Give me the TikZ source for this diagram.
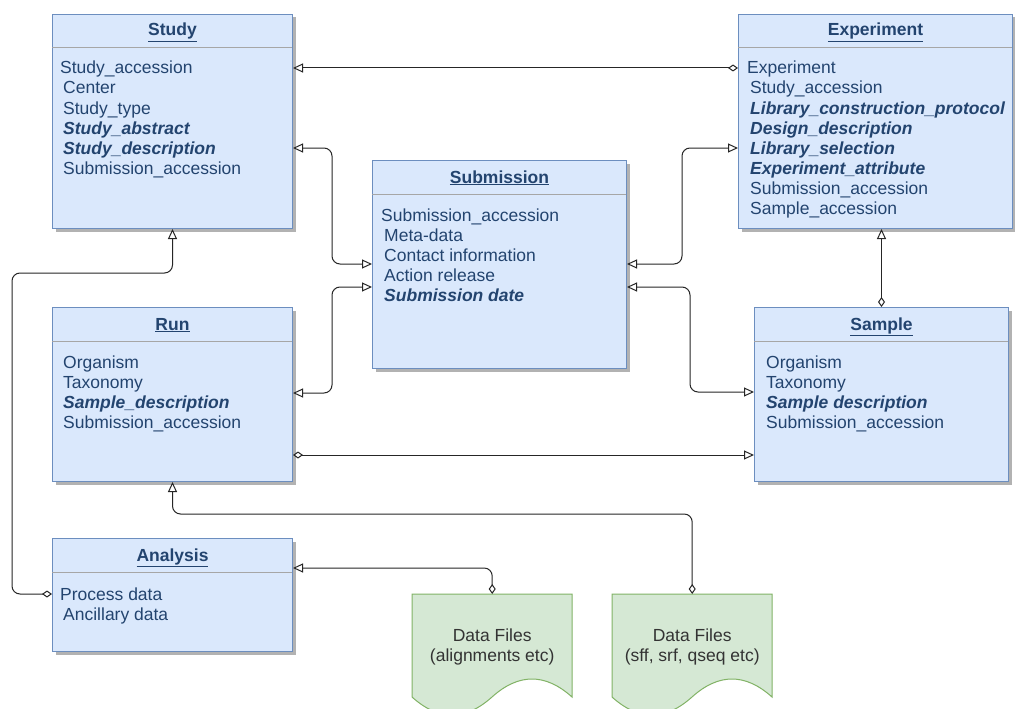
\documentclass[tikz,border=0pt]{standalone}
\usepackage{fontspec}
\setmainfont{Liberation Sans}
\usetikzlibrary{arrows.meta,shadows}

\definecolor{boxfill}{HTML}{DAE8FC}
\definecolor{boxline}{HTML}{6C8EBF}
\definecolor{boxtext}{HTML}{23446F}
\definecolor{sepline}{HTML}{A6A6A6}
\definecolor{filefill}{HTML}{D5E8D4}
\definecolor{fileline}{HTML}{82B366}
\definecolor{filetext}{HTML}{333333}
\definecolor{wire}{HTML}{262626}

\newcommand\keyfield[1]{\textbf{\textit{#1}}}

\tikzset{
  opentri/.tip={Triangle[open,length=10pt,width=9pt]},
  opendia/.tip={Diamond[open,length=10pt,width=7pt]},
  txt/.style={font=\fontsize{17.5}{20}\selectfont, inner sep=0pt},
  entity/.style={draw=boxline, fill=boxfill, line width=1pt, anchor=north west,
    inner sep=0pt,
    drop shadow={shadow xshift=3pt, shadow yshift=-3pt, opacity=0.3, fill=black}},
  sepr/.style={draw=sepline, line width=1pt},
  title/.style={txt, text=boxtext, anchor=base, font=\fontsize{17.5}{20}\selectfont\bfseries},
  attr/.style={txt, text=boxtext, anchor=base west},
  filebox/.style={anchor=north west, inner sep=0pt, minimum width=160pt, minimum height=123pt},
  filetxt/.style={txt, text=filetext, align=center, font=\fontsize{17.5}{20}\selectfont},
  link/.style={draw=wire, line width=1pt, rounded corners=8pt},
}

\begin{document}
\begin{tikzpicture}[x=1pt,y=-1pt]
  \useasboundingbox (0,0) rectangle (1015,709);
  \fill[white] (0,0) rectangle (1015,709);
  \clip (0,0) rectangle (1015,709);

  % ---- entity boxes ----
  \node[entity, minimum width=240pt, minimum height=214pt] (study) at (52,14) {};
  \node[entity, minimum width=274pt, minimum height=214pt] (experiment) at (738,14) {};
  \node[entity, minimum width=254pt, minimum height=208pt] (submission) at (372,160) {};
  \node[entity, minimum width=240pt, minimum height=174pt] (run) at (52,307) {};
  \node[entity, minimum width=254pt, minimum height=174pt] (sample) at (754,307) {};
  \node[entity, minimum width=240pt, minimum height=113pt] (analysis) at (52,538) {};

  % header separators
  \foreach \b/\w in {study/240, experiment/274, submission/254, run/240, sample/254, analysis/240}
    \draw[sepr] (\b.north west) ++(0,34) -- ++(\w,0);

  % titles (placed on their baselines)
  \node[title] (study-title) at ([yshift=-22pt]study.north) {\underline{Study}};
  \node[title] (experiment-title) at ([yshift=-22pt]experiment.north) {\underline{Experiment}};
  \node[title] (submission-title) at ([yshift=-23pt]submission.north) {\underline{Submission}};
  \node[title] (run-title) at ([yshift=-23pt]run.north) {\underline{Run}};
  \node[title] (sample-title) at ([yshift=-23pt]sample.north) {\underline{Sample}};
  \node[title] (analysis-title) at ([yshift=-23pt]analysis.north) {\underline{Analysis}};

  % fields (placed on their baselines, 20pt apart)
  \node[attr] (study-1) at (60,74) {Study\_accession};
  \foreach \t [count=\i from 2] in {Center, Study\_type, {\keyfield{Study\_abstract}},
      {\keyfield{Study\_description}}, Submission\_accession}
    \node[attr] (study-\i) at (63,54+20*\i) {\t};

  \node[attr] (experiment-1) at (747,74) {Experiment};
  \foreach \t [count=\i from 2] in {Study\_accession, {\keyfield{Library\_construction\_protocol}},
      {\keyfield{Design\_description}}, {\keyfield{Library\_selection}},
      {\keyfield{Experiment\_attribute}}, Submission\_accession, Sample\_accession}
    \node[attr] (experiment-\i) at (750,54+20*\i) {\t};

  \node[attr] (submission-1) at (381,221) {Submission\_accession};
  \foreach \t [count=\i from 2] in {Meta-data, Contact information, Action release,
      {\keyfield{Submission date}}}
    \node[attr] (submission-\i) at (384,201+20*\i) {\t};

  \foreach \t [count=\i] in {Organism, Taxonomy, {\keyfield{Sample\_description}},
      Submission\_accession}
    \node[attr] (run-\i) at (63,348+20*\i) {\t};

  \foreach \t [count=\i] in {Organism, Taxonomy, {\keyfield{Sample description}},
      Submission\_accession}
    \node[attr] (sample-\i) at (766,348+20*\i) {\t};

  \node[attr] (analysis-1) at (60,600) {Process data};
  \node[attr] (analysis-2) at (63,620) {Ancillary data};

  % ---- data file documents ----
  \node[filebox] (df1) at (412,594) {};
  \node[filebox] (df2) at (612,594) {};
  \foreach \d in {df1, df2}{
    \begin{scope}[shift={(\d.north west)}]
      \draw[draw=fileline, fill=filefill, line width=1pt]
        (0,0) -- (160,0) -- (160,103)
        .. controls (133.33,79) and (106.67,79) .. (80,103)
        .. controls (53.33,127) and (26.67,127) .. (0,103) -- cycle;
    \end{scope}
  }
  \node[filetxt] (df1-text) at ([yshift=9pt]df1.center) {Data Files\\(alignments etc)};
  \node[filetxt] (df2-text) at ([yshift=9pt]df2.center) {Data Files\\(sff, srf, qseq etc)};

  % ---- connectors ----
  \draw[link, opendia-opentri] (experiment.west |- 0,68) -- (study.east |- 0,68);
  \draw[link, opentri-opentri] (study.east |- 0,148) -| (332,264) -- (submission.west |- 0,264);
  \draw[link, opentri-opentri] (run.east |- 0,393) -| (332,287) -- (submission.west |- 0,287);
  \draw[link, opentri-opentri] (experiment.west |- 0,148) -| (682,264) -- (submission.east |- 0,264);
  \draw[link, opentri-opentri] (submission.east |- 0,287) -| (690,392) -- (sample.west |- 0,392);
  \draw[link, opendia-opentri] (sample.north) -- (experiment.south -| sample.north);
  \draw[link, opendia-opentri] (run.east |- 0,455) -- (sample.west |- 0,455);
  \draw[link, opendia-opentri] (analysis.west |- 0,594) -| (12,273) -| (study.south);
  \draw[link, opendia-opentri] (df2.north) |- (run.south |- 0,514) -- (run.south);
  \draw[link, opendia-opentri] (df1.north) |- (analysis.east |- 0,568);
\end{tikzpicture}
\end{document}
